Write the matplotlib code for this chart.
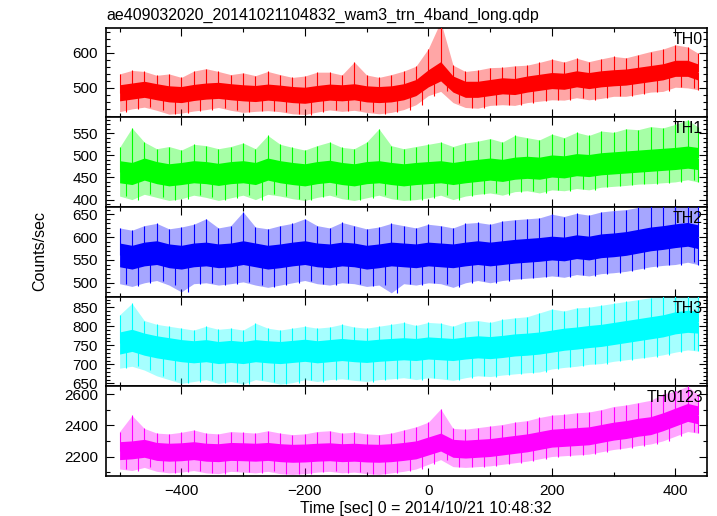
import numpy as np
import matplotlib
matplotlib.use('Agg')
import matplotlib.pyplot as plt
from matplotlib.ticker import MultipleLocator

plt.rcParams['font.family'] = ['Liberation Sans', 'DejaVu Sans']

title = 'ae409032020_20141021104832_wam3_trn_4band_long.qdp'
x_label = 'Time [sec] 0 = 2014/10/21 10:48:32'
y_label = 'Counts/sec'

# 20 s segments, time of each segment start [sec]
t_seg = [-500, -480, -460, -440, -420, -400, -380, -360, -340, -320, -300, -280,
         -260, -240, -220, -200, -180, -160, -140, -120, -100, -80, -60, -40,
         -20, 0, 20, 40, 60, 80, 100, 120, 140, 160, 180, 200, 220, 240, 260, 280,
         300, 320, 340, 360, 380, 400, 420, 436]

bands = ['TH0', 'TH1', 'TH2', 'TH3', 'TH0123']
colors = ['#ff0000', '#00ff00', '#0000ff', '#00ffff', '#ff00ff']

# core of the noise band (low / high) and the spikes (peak / dip) per segment
th0_lo = [463, 468, 473, 466, 460, 458, 464, 468, 470, 466, 463, 461, 465, 462, 458, 456,
          461, 465, 463, 466, 460, 458, 460, 466, 478, 503, 520, 488, 473, 473, 478, 483,
          481, 488, 493, 498, 496, 503, 498, 503, 506, 508, 513, 518, 523, 533, 533, 523]
th0_hi = [509, 514, 519, 512, 506, 504, 510, 514, 516, 512, 509, 507, 511, 508, 504, 502,
          507, 511, 509, 512, 506, 504, 506, 512, 524, 552, 575, 534, 519, 519, 524, 529,
          527, 534, 539, 544, 542, 549, 544, 549, 552, 554, 559, 564, 569, 579, 579, 569]
th0_peak = [540, 550, 547, 536, 540, 530, 548, 555, 547, 538, 543, 535, 547, 538, 530, 534,
            545, 545, 537, 574, 537, 530, 538, 548, 562, 612, 690, 565, 547, 551, 558, 559,
            563, 565, 573, 582, 574, 585, 575, 583, 590, 586, 595, 604, 611, 623, 617, 600]
th0_dip = [432, 440, 445, 436, 425, 428, 434, 438, 444, 436, 430, 433, 435, 432, 426, 424,
           431, 437, 433, 436, 430, 426, 430, 438, 452, 478, 490, 458, 444, 442, 450, 452,
           450, 458, 462, 466, 465, 472, 466, 470, 476, 476, 482, 488, 490, 502, 500, 495]

th1_lo = [438, 434, 444, 436, 431, 434, 438, 436, 432, 436, 438, 434, 444, 438, 434, 431,
          436, 439, 434, 431, 436, 438, 434, 431, 434, 436, 438, 434, 438, 441, 444, 441,
          446, 448, 446, 451, 449, 454, 452, 456, 458, 460, 462, 464, 466, 468, 471, 468]
th1_hi = [488, 484, 494, 486, 481, 484, 488, 486, 482, 486, 488, 484, 494, 488, 484, 481,
          486, 489, 484, 481, 486, 488, 484, 481, 484, 486, 488, 484, 488, 491, 494, 491,
          496, 498, 496, 501, 499, 504, 502, 506, 508, 510, 512, 514, 516, 518, 521, 518]
th1_peak = [518, 562, 530, 515, 520, 512, 525, 522, 515, 520, 528, 515, 545, 525, 518, 512,
            522, 530, 518, 515, 530, 560, 522, 515, 520, 525, 530, 520, 528, 532, 538, 530,
            545, 540, 535, 548, 540, 552, 545, 555, 552, 560, 558, 565, 562, 570, 580, 565]
th1_dip = [408, 400, 412, 405, 398, 402, 410, 405, 398, 404, 410, 400, 412, 408, 402, 398,
           405, 410, 402, 398, 404, 410, 402, 398, 400, 404, 410, 400, 408, 412, 415, 410,
           418, 420, 415, 422, 420, 425, 422, 428, 430, 432, 435, 436, 438, 440, 445, 440]

th2_lo = [535, 530, 537, 540, 533, 530, 535, 537, 533, 535, 540, 535, 530, 533, 537, 540,
          535, 533, 537, 535, 530, 533, 537, 535, 533, 537, 535, 533, 537, 540, 537, 540,
          543, 545, 547, 550, 548, 553, 550, 555, 557, 560, 565, 570, 573, 577, 580, 575]
th2_hi = [587, 582, 589, 592, 585, 582, 587, 589, 585, 587, 592, 587, 582, 585, 589, 592,
          587, 585, 589, 587, 582, 585, 589, 587, 585, 589, 587, 585, 589, 592, 589, 592,
          595, 597, 599, 602, 600, 605, 602, 607, 609, 612, 617, 622, 625, 629, 632, 627]
th2_peak = [620, 615, 625, 630, 618, 622, 628, 640, 620, 625, 655, 622, 618, 625, 630, 640,
            625, 620, 632, 625, 618, 622, 630, 625, 620, 628, 625, 620, 630, 632, 628, 635,
            638, 640, 642, 650, 645, 652, 648, 655, 658, 660, 665, 670, 672, 680, 685, 675]
th2_dip = [498, 492, 500, 505, 495, 480, 498, 500, 495, 498, 502, 495, 490, 495, 500, 505,
           498, 495, 500, 498, 492, 495, 478, 498, 495, 500, 498, 490, 500, 505, 500, 505,
           508, 510, 512, 515, 512, 518, 515, 520, 522, 525, 530, 535, 538, 540, 545, 540]

th3_lo = [727, 734, 724, 717, 712, 707, 704, 707, 702, 705, 702, 707, 704, 702, 705, 708,
          704, 707, 710, 707, 705, 708, 710, 712, 710, 714, 712, 710, 714, 717, 715, 718,
          722, 724, 727, 732, 737, 740, 744, 747, 752, 757, 762, 767, 772, 780, 784, 782]
th3_hi = [785, 792, 782, 775, 770, 765, 762, 765, 760, 763, 760, 765, 762, 760, 763, 766,
          762, 765, 768, 765, 763, 766, 768, 770, 768, 772, 770, 768, 772, 775, 773, 776,
          780, 782, 785, 790, 795, 798, 802, 805, 810, 815, 820, 825, 830, 838, 842, 840]
th3_peak = [830, 860, 815, 805, 800, 795, 790, 800, 792, 795, 790, 808, 795, 790, 795, 800,
            795, 798, 805, 798, 795, 800, 805, 810, 802, 810, 808, 800, 812, 815, 810, 818,
            822, 825, 835, 845, 840, 848, 850, 855, 860, 865, 870, 875, 880, 885, 890, 880]
th3_dip = [690, 695, 685, 670, 660, 650, 655, 660, 650, 655, 648, 660, 655, 648, 652, 660,
           655, 660, 662, 658, 655, 660, 662, 665, 660, 665, 662, 658, 665, 670, 668, 672,
           675, 678, 680, 688, 692, 695, 700, 702, 708, 712, 716, 720, 725, 732, 738, 735]

th0123_lo = [2180, 2185, 2195, 2175, 2170, 2173, 2180, 2170, 2167, 2175, 2173, 2170, 2175, 2167,
             2163, 2165, 2170, 2173, 2167, 2170, 2165, 2163, 2167, 2175, 2185, 2210, 2235, 2195,
             2190, 2195, 2200, 2210, 2220, 2230, 2245, 2260, 2265, 2270, 2275, 2290, 2305, 2315,
             2330, 2340, 2365, 2395, 2425, 2410]
th0123_hi = [2295, 2300, 2310, 2290, 2285, 2288, 2295, 2285, 2282, 2290, 2288, 2285, 2290, 2282,
             2278, 2280, 2285, 2288, 2282, 2285, 2280, 2278, 2282, 2290, 2300, 2325, 2350, 2310,
             2305, 2310, 2315, 2325, 2335, 2345, 2360, 2375, 2380, 2385, 2390, 2405, 2420, 2430,
             2445, 2455, 2480, 2510, 2540, 2525]
th0123_peak = [2360, 2463, 2380, 2350, 2345, 2355, 2370, 2350, 2345, 2360, 2355, 2350, 2365, 2350,
               2340, 2345, 2360, 2365, 2350, 2355, 2345, 2340, 2350, 2370, 2390, 2420, 2505, 2380,
               2375, 2385, 2395, 2405, 2420, 2430, 2450, 2465, 2470, 2480, 2485, 2500, 2520, 2530,
               2545, 2560, 2600, 2620, 2650, 2600]
th0123_dip = [2120, 2110, 2130, 2105, 2095, 2100, 2110, 2095, 2090, 2105, 2100, 2095, 2105, 2090,
              2085, 2090, 2100, 2105, 2095, 2100, 2090, 2085, 2095, 2105, 2120, 2150, 2180, 2135,
              2130, 2135, 2140, 2150, 2160, 2170, 2185, 2200, 2205, 2210, 2215, 2230, 2245, 2255,
              2270, 2280, 2300, 2330, 2360, 2350]

data = [(th0_lo, th0_hi, th0_peak, th0_dip),
        (th1_lo, th1_hi, th1_peak, th1_dip),
        (th2_lo, th2_hi, th2_peak, th2_dip),
        (th3_lo, th3_hi, th3_peak, th3_dip),
        (th0123_lo, th0123_hi, th0123_peak, th0123_dip)]

y_lims = [(416, 672), (383.5, 586), (470, 666), (643, 878), (2077, 2651)]
y_major = [100, 50, 50, 50, 200]
y_minor = [20, 10, 10, 10, 100]


def draw_panel(ax, t, lo, hi, peak, dip, color):
    # pale envelope of the spikes, solid core band, spikes as thin lines
    t = np.asarray(t, dtype=float)
    lo, hi = np.asarray(lo, dtype=float), np.asarray(hi, dtype=float)
    mid = (lo + hi) / 2
    ax.fill_between(t, dip, peak, color=color, alpha=0.35, lw=0, zorder=2)
    ax.fill_between(t, lo, hi, color=color, lw=0, zorder=2)
    t_dip = np.minimum(t + 10, t[-1])
    ax.vlines(t, mid, peak, color=color, lw=0.8, zorder=3)
    ax.vlines(t_dip, mid, dip, color=color, lw=0.8, zorder=3)


fig, axes = plt.subplots(5, 1, figsize=(7.17, 5.16), dpi=100, sharex=True)
fig.subplots_adjust(left=0.1483, right=0.986, top=0.9463, bottom=0.0781, hspace=0)

for i, ax in enumerate(axes):
    lo, hi, peak, dip = data[i]
    draw_panel(ax, t_seg, lo, hi, peak, dip, colors[i])
    ax.set_xlim(-521.5, 451.3)
    ax.set_ylim(*y_lims[i])
    ax.xaxis.set_major_locator(MultipleLocator(200))
    ax.xaxis.set_minor_locator(MultipleLocator(100))
    ax.yaxis.set_major_locator(MultipleLocator(y_major[i]))
    ax.yaxis.set_minor_locator(MultipleLocator(y_minor[i]))
    ax.tick_params(which='both', direction='in', top=True, right=True,
                   labelsize=11, width=0.8)
    ax.tick_params(which='major', length=6, pad=6)
    ax.tick_params(which='minor', length=3)
    for s in ax.spines.values():
        s.set_linewidth(1.2)
    ax.text(0.993, 0.955, bands[i], transform=ax.transAxes, ha='right', va='top',
            fontsize=11.5, zorder=5)

fig.text(106.5 / 717, 1 - 15 / 516, title, ha='left', va='center', fontsize=11.5)
fig.text(426 / 717, 1 - 508 / 516, x_label, ha='center', va='center', fontsize=11.5)
fig.text(40 / 717, 1 - 251 / 516, y_label, ha='center', va='center', rotation=90,
         fontsize=11.5)

plt.savefig('out.png', dpi=100)
